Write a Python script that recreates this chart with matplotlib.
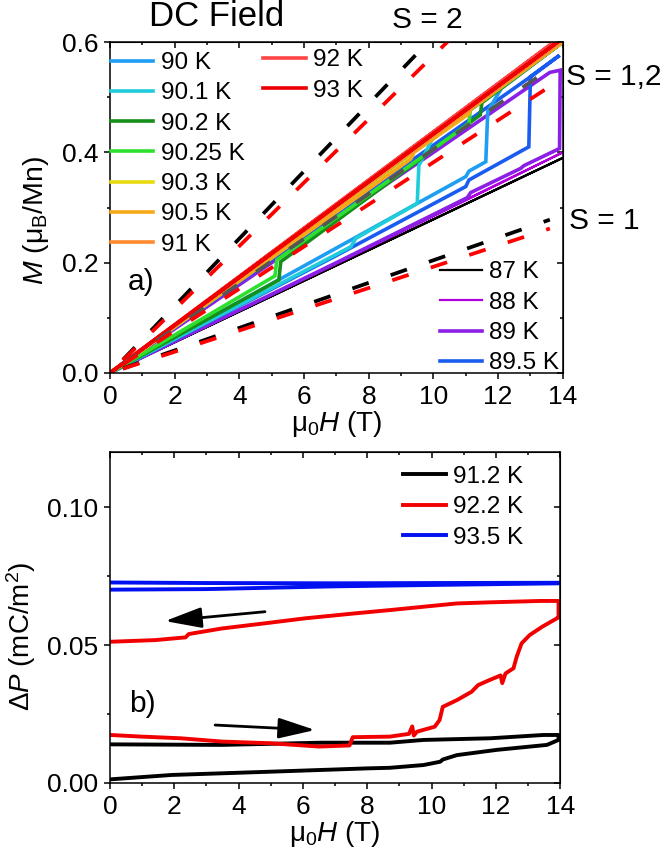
import numpy as np
import matplotlib
matplotlib.use("Agg")
import matplotlib.pyplot as plt
from matplotlib.ticker import MultipleLocator

plt.rcParams['font.family'] = ['Liberation Sans', 'DejaVu Sans']
plt.rcParams['mathtext.fontset'] = 'custom'
plt.rcParams['mathtext.rm'] = 'Liberation Sans'
plt.rcParams['mathtext.it'] = 'Liberation Sans:italic'
plt.rcParams['mathtext.bf'] = 'Liberation Sans:bold'

# ---- panel a) M(H) sweeps, up then down ----
temps_a = ['87 K', '88 K', '89 K', '89.5 K', '90 K', '90.1 K', '90.2 K',
           '90.25 K', '90.3 K', '90.5 K', '91 K', '92 K', '93 K']
colors_a = ['#000000', '#B000DC', '#8A1FE6', '#1A5CF0', '#1E9EF2', '#1ECCDA',
            '#14901A', '#2EE02E', '#E8DA10', '#F5A818', '#FF8A30', '#FF4545',
            '#EE0000']
H_a = [
    [0, 14, 0],
    [0, 7, 11, 14, 0],
    [0, 7, 11.05, 11.15, 12.7, 12.8, 13.9, 13.92, 13.6, 10, 5, 0],
    [0, 7, 11.0, 11.1, 12.95, 13.0, 13.9, 13.0, 10, 5, 0],
    [0, 11.0, 11.1, 11.62, 11.68, 12.1, 14, 0],
    [0, 7.45, 7.6, 9.5, 9.55, 10.0, 14, 0],
    [0, 5.22, 5.28, 7.1, 11.45, 11.5, 14, 0],
    [0, 5.1, 5.16, 11.1, 11.15, 14, 0],
    [0, 9.2, 9.3, 14, 0],
    [0, 9.3, 9.4, 11.1, 11.2, 14, 0],
    [0, 14, 0],
    [0, 14, 0],
    [0, 14, 0],
]
M_a = [
    [0, 0.390, 0],
    [0, 0.198, 0.313, 0.400, 0],
    [0, 0.200, 0.318, 0.327, 0.371, 0.376, 0.407, 0.549, 0.545, 0.400, 0.200, 0],
    [0, 0.213, 0.338, 0.350, 0.410, 0.537, 0.576, 0.537, 0.413, 0.206, 0],
    [0, 0.356, 0.366, 0.383, 0.474, 0.516, 0.600, 0],
    [0, 0.229, 0.244, 0.3075, 0.376, 0.428, 0.600, 0],
    [0, 0.1686, 0.2018, 0.280, 0.468, 0.490, 0.600, 0],
    [0, 0.176, 0.205, 0.452, 0.483, 0.600, 0],
    [0, 0.385, 0.400, 0.602, 0],
    [0, 0.388, 0.400, 0.470, 0.485, 0.600, 0],
    [0, 0.603, 0],
    [0, 0.612, 0],
    [0, 0.607, 0],
]

# spin-model lines (S = 2, S = 1,2, S = 1), endpoints
S2_blk_H, S2_blk_M = [0.4, 10.0], [0.024, 0.610]
S2_red_H, S2_red_M = [0.4, 10.6], [0.023, 0.610]
S12_gry_H, S12_gry_M = [0.4, 13.75], [0.0162, 0.558]
S12_red_H, S12_red_M = [0.4, 13.9], [0.0153, 0.531]
S1_blk_H, S1_blk_M = [0.4, 13.6], [0.0082, 0.278]
S1_red_H, S1_red_M = [0.4, 13.6], [0.0077, 0.262]

# ---- panel b) Delta P(H) ----
temps_b = ['91.2 K', '92.2 K', '93.5 K']
colors_b = ['#000000', '#F20000', '#0010F0']
H_912 = [0, 1.92, 5.03, 8.04, 8.71, 9.75, 10.27, 10.35, 10.79, 12.03, 13.59, 13.95,
         13.95, 13.48, 11.82, 9.75, 8.71, 6.58, 3.47, 0]
P_912 = [0.0013, 0.0029, 0.0041, 0.0053, 0.0055, 0.0065, 0.0077, 0.0085, 0.0101,
         0.0120, 0.0138, 0.0156, 0.0174, 0.0174, 0.0162, 0.0156, 0.0146, 0.0146,
         0.0138, 0.0140]
H_922 = [0, 1.0, 2.2, 3.5, 5.0, 6.5, 7.45, 7.55, 8.7, 9.3, 9.4, 9.45, 9.55, 10.1,
         10.25, 10.35, 10.8, 11.25, 11.45, 11.8, 12.15, 12.2, 12.3, 12.55, 12.65,
         12.8, 13.05, 13.45, 13.9, 13.95,
         13.95, 13.38, 11.82, 10.79, 9.75, 8.71, 7.62, 6.07, 4.82, 3.47, 2.45,
         2.35, 1.4, 0]
P_922 = [0.0174, 0.0168, 0.0162, 0.0150, 0.0144, 0.0132, 0.0136, 0.0166, 0.0168,
         0.0178, 0.0205, 0.0172, 0.0186, 0.0204, 0.0228, 0.0276, 0.0301, 0.0331,
         0.0355, 0.0373, 0.0390, 0.0362, 0.0397, 0.0416, 0.0458, 0.0506, 0.0536,
         0.0567, 0.0597, 0.0600,
         0.0660, 0.0660, 0.0655, 0.0651, 0.0639, 0.0627, 0.0615, 0.0597, 0.0579,
         0.0560, 0.0540, 0.0528, 0.0518, 0.0512]
H_935 = [0, 3, 7, 10, 14, 14, 10, 7, 3, 0]
P_935 = [0.0701, 0.0703, 0.0713, 0.0718, 0.0724, 0.0726, 0.0725, 0.0724, 0.0725, 0.0727]

fig = plt.figure(figsize=(6.61, 8.64), dpi=100)
ax1 = fig.add_axes([0.1664, 0.5683, 0.685, 0.383])
ax2 = fig.add_axes([0.1664, 0.0938, 0.681, 0.383])

lines_a = []
for name, col, h, m in zip(temps_a, colors_a, H_a, M_a):
    lw = 1.6 if name in ('87 K', '88 K') else 2.6
    ln, = ax1.plot(h, m, color=col, lw=lw, label=name, solid_joinstyle='miter')
    lines_a.append(ln)

dash = (0, (4.6, 6.2))
for h, m, c in [(S2_blk_H, S2_blk_M, 'black'), (S2_red_H, S2_red_M, '#FF0000'),
                (S12_gry_H, S12_gry_M, '#555555'), (S12_red_H, S12_red_M, '#FF0000'),
                (S1_blk_H, S1_blk_M, 'black'), (S1_red_H, S1_red_M, '#FF0000')]:
    ax1.plot(h, m, color=c, lw=2.7, linestyle=dash)

for h, p, c, n in zip([H_912, H_922, H_935], [P_912, P_922, P_935], colors_b, temps_b):
    ax2.plot(h, p, color=c, lw=2.8, label=n)

arrow = dict(arrowstyle='-|>,head_length=1.25,head_width=0.35', color='black',
             lw=2.0, mutation_scale=18, shrinkA=0, shrinkB=0)
ax2.annotate('', xy=(1.71, 0.0587), xytext=(4.82, 0.0621), arrowprops=arrow)
ax2.annotate('', xy=(6.38, 0.0192), xytext=(3.27, 0.0210), arrowprops=arrow)

tick_fs = 19
for ax, ylim, ymaj, ymin in [(ax1, (0, 0.6), 0.2, 0.1), (ax2, (0, 0.12), 0.05, 0.025)]:
    ax.set_xlim(0, 14)
    ax.set_ylim(*ylim)
    ax.xaxis.set_major_locator(MultipleLocator(2))
    ax.xaxis.set_minor_locator(MultipleLocator(1))
    ax.yaxis.set_major_locator(MultipleLocator(ymaj))
    ax.yaxis.set_minor_locator(MultipleLocator(ymin))
    ax.tick_params(which='both', direction='out', labelsize=tick_fs, width=1.1, pad=4.5)
    ax.tick_params(which='major', length=4)
    ax.tick_params(which='minor', length=2.5)
    for sp in ax.spines.values():
        sp.set_linewidth(1.1)
    secx = ax.secondary_xaxis('top')
    secx.xaxis.set_major_locator(MultipleLocator(2))
    secx.xaxis.set_minor_locator(MultipleLocator(1))
    secx.tick_params(which='both', direction='in', labeltop=False, width=1.1)
    secx.tick_params(which='major', length=4)
    secx.tick_params(which='minor', length=2.5)
    secy = ax.secondary_yaxis('right')
    secy.yaxis.set_major_locator(MultipleLocator(ymaj))
    secy.yaxis.set_minor_locator(MultipleLocator(ymin))
    secy.tick_params(which='both', direction='in', labelright=False, width=1.1)
    secy.tick_params(which='major', length=4)
    secy.tick_params(which='minor', length=2.5)
    ax.set_xlabel(r'$\mathrm{\mu_0}\mathit{H}$ (T)', fontsize=20, labelpad=0)

ax1.yaxis.set_major_formatter(matplotlib.ticker.FormatStrFormatter('%.1f'))
ax2.yaxis.set_major_formatter(matplotlib.ticker.FormatStrFormatter('%.2f'))
ax1.set_ylabel(r'$\mathit{M}$ ($\mathrm{\mu_B}$/Mn)', fontsize=20.5)
ax2.set_ylabel(r'$\Delta\mathit{P}$ (mC/m$^2$)', fontsize=20)
ax1.yaxis.set_label_coords(-0.13, 0.46)
ax2.yaxis.set_label_coords(-0.16, 0.444)

leg_kw = dict(frameon=False, fontsize=17.5, handlelength=1.75, handletextpad=0.3,
              labelspacing=0.34, borderpad=0, borderaxespad=0, loc='upper left')
leg1 = ax1.legend(handles=lines_a[4:11], bbox_to_anchor=(0.002, 0.970), **leg_kw)
ax1.add_artist(leg1)
leg2 = ax1.legend(handles=lines_a[11:13], bbox_to_anchor=(0.338, 0.978), **leg_kw)
ax1.add_artist(leg2)
ax1.legend(handles=lines_a[0:4], bbox_to_anchor=(0.728, 0.337), **leg_kw)
ax2.legend(bbox_to_anchor=(0.651, 0.958), **leg_kw)

ax1.text(0.068, 0.275, 'a)', transform=ax1.transAxes, fontsize=21.5, ha='center', va='center')
ax2.text(0.073, 0.24, 'b)', transform=ax2.transAxes, fontsize=21.5, ha='center', va='center')

W, Hh = 661.0, 864.0
fig.text(217 / W, 1 - 16 / Hh, 'DC Field', fontsize=25, ha='center', va='center')
fig.text(427 / W, 1 - 20 / Hh, 'S = 2', fontsize=21.5, ha='center', va='center')
fig.text(566 / W, 1 - 77 / Hh, 'S = 1,2', fontsize=21.5, ha='left', va='center')
fig.text(569 / W, 1 - 221 / Hh, 'S = 1', fontsize=21.5, ha='left', va='center')

fig.savefig('out.png', dpi=100)
